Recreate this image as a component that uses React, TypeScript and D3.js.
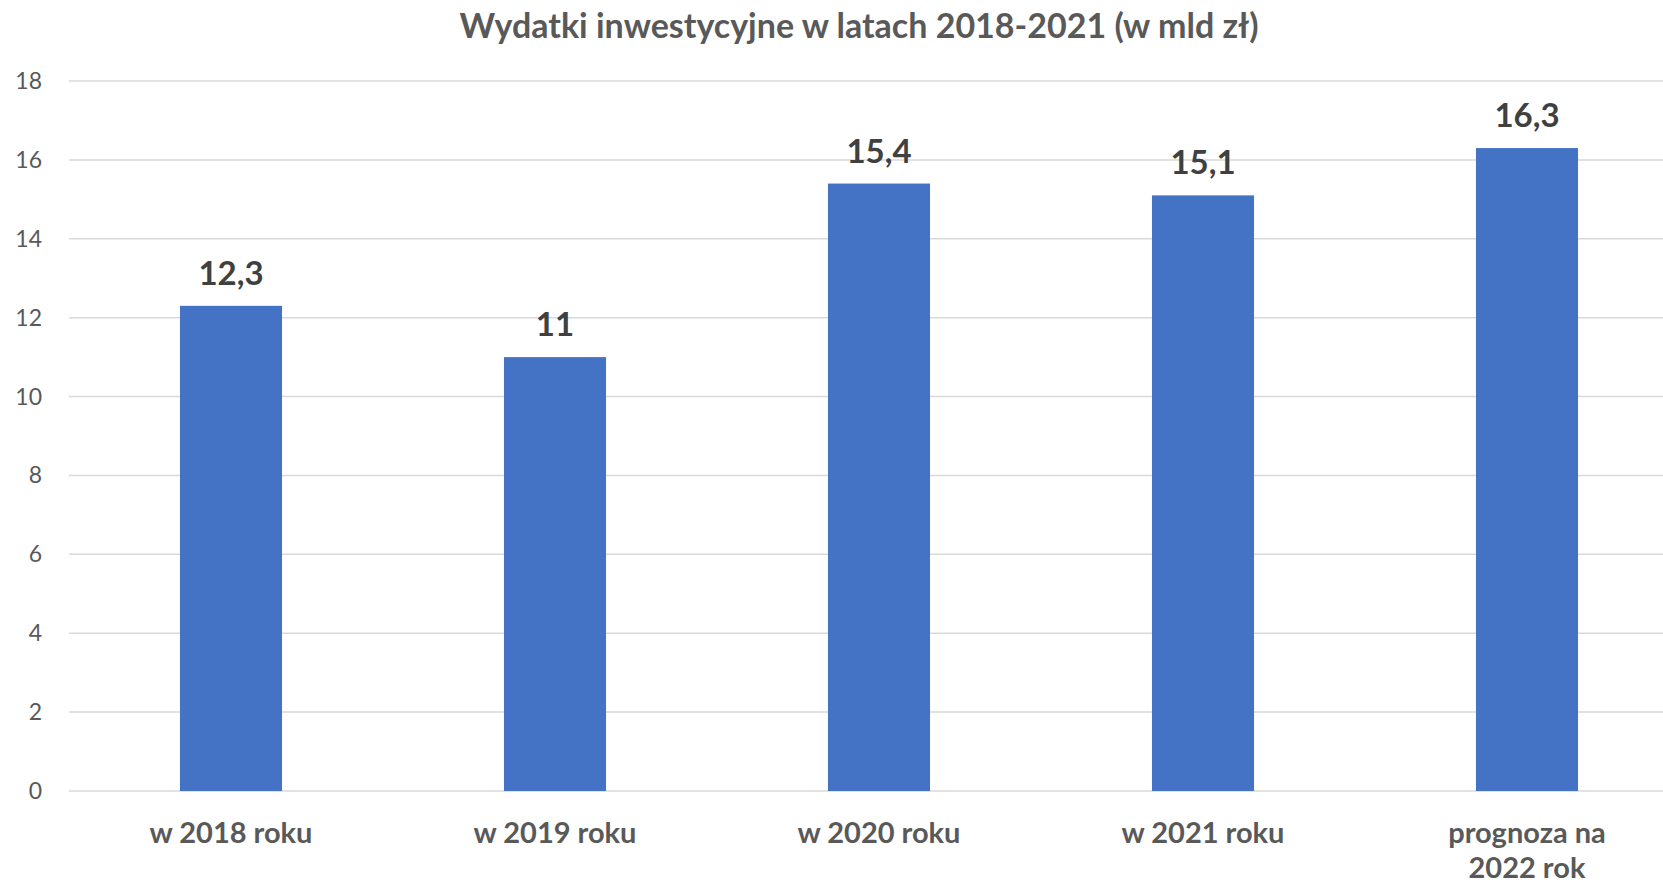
import * as d3 from "d3";
import { useEffect } from "react";

const categories = ["w 2018 roku", "w 2019 roku", "w 2020 roku", "w 2021 roku", "prognoza na\n2022 rok"];
const values = [12.3, 11, 15.4, 15.1, 16.3];
const valueLabels = ["12,3", "11", "15,4", "15,1", "16,3"];
const yTicks = [0, 2, 4, 6, 8, 10, 12, 14, 16, 18];

const W = 1663;
const H = 885;
const FONT = "Lato, 'Open Sans', sans-serif";

const App = () => {
  useEffect(() => {
    document.body.style.margin = "0";
  }, []);

  const x = d3
    .scaleBand<string>()
    .domain(categories)
    .range([69, 1689])
    .paddingInner(0.685)
    .paddingOuter(0.3425);
  const y = d3.scaleLinear().domain([0, 18]).range([791, 81]);

  return (
    <svg width={W} height={H} viewBox={`0 0 ${W} ${H}`} style={{ display: "block", background: "#fff" }}>
      <text
        x={859}
        y={38}
        textAnchor="middle"
        fontFamily={FONT}
        fontWeight="bold"
        fontSize={34}
        fill="#595959"
      >
        Wydatki inwestycyjne w latach 2018-2021 (w mld zł)
      </text>

      {yTicks.map((t) => (
        <g key={t}>
          <line x1={69} x2={W} y1={y(t)} y2={y(t)} stroke="#d9d9d9" strokeWidth={1.5} />
          <text
            x={42}
            y={y(t)}
            dy="0.35em"
            textAnchor="end"
            fontFamily={FONT}
            fontSize={23}
            fill="#595959"
          >
            {t}
          </text>
        </g>
      ))}

      {categories.map((c, i) => {
        const cx = x(c)! + x.bandwidth() / 2;
        const lines = c.split("\n");
        return (
          <g key={c}>
            <rect x={x(c)} y={y(values[i])} width={x.bandwidth()} height={y(0) - y(values[i])} fill="#4472c4" />
            <text
              x={cx}
              y={y(values[i]) - 21}
              textAnchor="middle"
              fontFamily={FONT}
              fontWeight="bold"
              fontSize={33}
              fill="#404040"
            >
              {valueLabels[i]}
            </text>
            {lines.map((l, j) => (
              <text
                key={j}
                x={cx}
                y={843 + j * 35}
                textAnchor="middle"
                fontFamily={FONT}
                fontWeight="bold"
                fontSize={29}
                fill="#595959"
              >
                {l}
              </text>
            ))}
          </g>
        );
      })}
    </svg>
  );
};

export default App;
